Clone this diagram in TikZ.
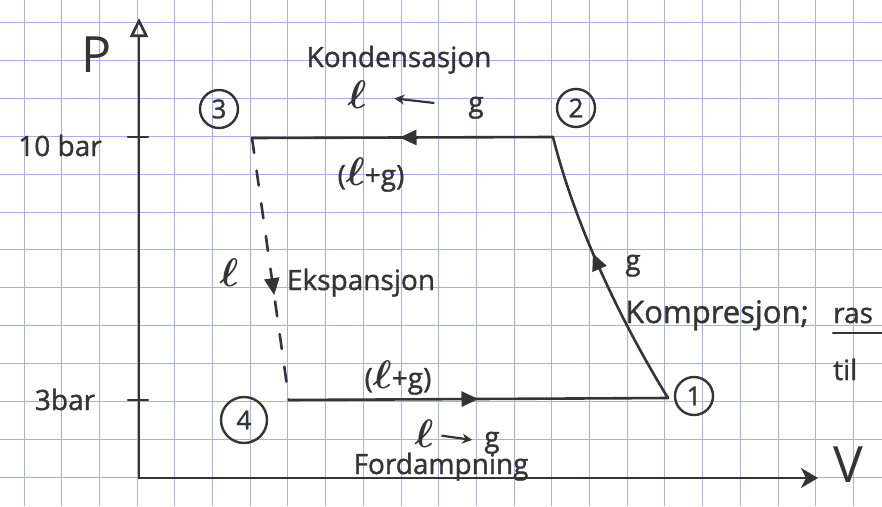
\documentclass[tikz,border=0pt]{standalone}
\usepackage{amsmath}
\usepackage{fontspec}
\setmainfont{Open Sans}
\newfontfamily\handfont{Open Sans}[FakeBold=1.2]
\usetikzlibrary{arrows.meta,positioning,decorations.markings}
\definecolor{ink}{HTML}{343434}
\definecolor{sq}{HTML}{ABABF0}

\tikzset{
  pen/.style={ink,line width=2.6pt,line cap=round,line join=round},
  hand/.style={ink,inner sep=0pt,font=\fontsize{28}{32}\handfont},
  big/.style={ink,inner sep=0pt,font=\fontsize{50}{54}\selectfont},
  state/.style={circle,draw=ink,line width=2.4pt,inner sep=0pt,minimum size=38pt,text=ink,font=\fontsize{26}{30}\handfont},
  thinarrow/.style={ink,line width=2.2pt,-{Stealth[length=10pt,width=10pt]}},
  midarrow/.style={postaction={decorate},decoration={markings,mark=at position #1 with {\arrow{Triangle[length=17pt,width=15pt]}}}}
}
\newcommand{\liq}{\scalebox{1.6}{$\boldsymbol{\ell}$}}

\begin{document}
\begin{tikzpicture}[x=1pt,y=-1pt]
  \useasboundingbox (0,0) rectangle (882,506);
  \clip (0,0) rectangle (882,506);
  \fill[white] (0,0) rectangle (882,506);
  % squared paper
  \foreach \k in {0,...,22}
    \draw[sq,line width=1pt] ({24+37.7*\k},0) -- ({24+37.7*\k},506);
  \foreach \k in {0,...,12}
    \draw[sq,line width=1pt] (0,{22.5+37.9*\k}) -- (882,{22.5+37.9*\k});

  % axes
  \coordinate (o) at (139,478);
  \coordinate (ptop) at (139,18);
  \coordinate (vend) at (818,478);
  \draw[pen,-{Triangle[open,length=19pt,width=18pt]}] (o) -- (ptop);
  \draw[pen,-{Stealth[length=17pt,width=20pt,inset=5pt]}] (o) -- (vend);
  \node[big,anchor=base] (plbl) at (97,72) {P};
  \node[big,anchor=base] (vlbl) at (848,482) {V};

  % pressure levels
  \foreach \n/\y/\b/\t/\xx in {hi/137/156/10 bar/60,lo/400/410/3bar/65} {
    \draw[pen] (128,\y) -- (148,\y);
    \node[hand,anchor=base] (p\n) at (\xx,\b) {\t};
  }

  % state points
  \coordinate (c1) at (668,398);
  \coordinate (c2) at (553,137);
  \coordinate (c3) at (252,138);
  \coordinate (c4) at (289,400);
  \node[state] (s1) at (694,396) {1};
  \node[state] (s2) at (576,108) {2};
  \node[state] (s3) at (219,109) {3};
  \node[state,minimum size=46pt] (s4) at (244,420) {4};

  % cycle
  \draw[pen,midarrow=0.57] (c1) .. controls (620,320) and (575,225) .. (c2);
  \draw[pen,midarrow=0.51] (c2) -- (c3);
  \draw[pen,dash pattern=on 15pt off 18pt,midarrow=0.6] (c3) -- (c4);
  \draw[pen,midarrow=0.5] (c4) -- (c1);

  % condensation
  \node[hand,anchor=base] (kond) at (399,67) {Kondensasjon};
  \node[hand,anchor=base] (lk) at (357,108) {\liq};
  \node[hand,anchor=base] (gk) at (476,112) {g};
  \draw[thinarrow,shorten <=34pt,shorten >=28pt] (gk) -- (lk);
  \node[hand,anchor=base] (lgtop) at (371,185) {(\liq+g)};

  % expansion
  \node[hand,anchor=base] (lexp) at (229,286) {\liq};
  \node[hand,anchor=base] (eksp) at (361,290) {Ekspansjon};

  % compression
  \node[hand,anchor=base] (gkomp) at (633,270) {g};
  \node[hand,anchor=base west,font=\fontsize{31}{34}\handfont] (komp) at (625,323) {Kompresjon;};
  \node[hand,anchor=base west] (ras) at (833,323) {ras};
  \draw[pen,line width=2.2pt] ([yshift=-10pt]ras.base west) -- ++(60,0);
  \node[hand,anchor=base west] (til) at (833,380) {til};

  % evaporation
  \node[hand,anchor=base] (lgbot) at (398,388) {(\liq+g)};
  \node[hand,anchor=base] (lf) at (424,447) {\liq};
  \node[hand,anchor=base] (gf) at (492,447) {g};
  \draw[thinarrow,shorten <=8pt,shorten >=12pt] (lf) -- (gf);
  \node[hand,anchor=base] (ford) at (441,474) {Fordampning};
\end{tikzpicture}
\end{document}
